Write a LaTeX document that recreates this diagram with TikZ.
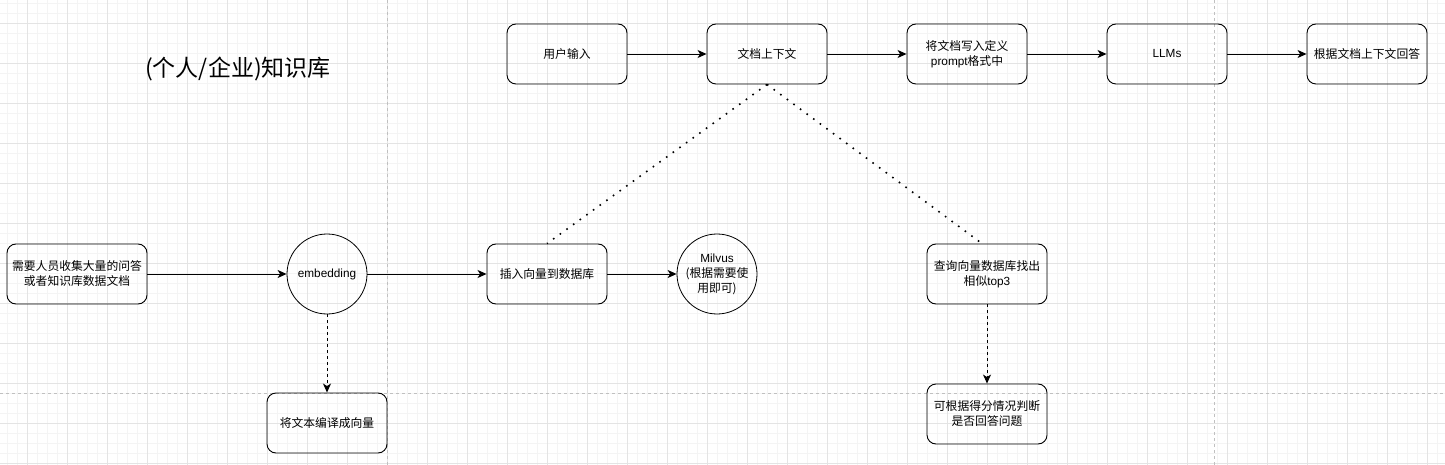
\documentclass[tikz,border=0pt]{standalone}
\usepackage{fontspec}
\setmainfont{Noto Sans CJK SC}
\newfontfamily\lat{Liberation Sans}
\usetikzlibrary{arrows.meta}
\definecolor{gridmajor}{HTML}{E4E4E4}
\definecolor{gridminor}{HTML}{F4F4F4}
\definecolor{pagebreak}{HTML}{C0C0C0}
\begin{document}
\begin{tikzpicture}[x=1pt,y=-1pt,
  box/.style={draw,line width=0.9pt,rounded corners=9pt,minimum width=120pt,minimum height=60pt,
    align=center,font=\fontsize{11.8}{15}\selectfont,inner sep=2pt},
  circ/.style={draw,line width=0.8pt,circle,minimum size=80pt,inner sep=0pt,align=center,
    font=\fontsize{11.8}{15}\selectfont},
  arr/.style={-{Stealth[length=9pt,width=8pt,inset=2.5pt]},line width=0.9pt},
  dasharr/.style={arr,dash pattern=on 3pt off 3pt},
  dotline/.style={line width=1.6pt,dash pattern=on 1.6pt off 6.6pt},
  pagebrk/.style={pagebreak,line width=0.8pt,dash pattern=on 3pt off 3pt}]
\useasboundingbox (0,0) rectangle (1445,465);
\fill[white] (0,0) rectangle (1445,465);
% grid
\foreach \x in {7,17,...,1445} \draw[gridminor,line width=0.6pt] (\x,0) -- (\x,465);
\foreach \y in {3,13,...,465} \draw[gridminor,line width=0.6pt] (0,\y) -- (1445,\y);
\foreach \x in {27,67,...,1445} \draw[gridmajor,line width=0.8pt] (\x,0) -- (\x,465);
\foreach \y in {23,63,...,465} \draw[gridmajor,line width=0.8pt] (0,\y) -- (1445,\y);
% page breaks
\draw[pagebrk] (387,0) -- (387,465);
\draw[pagebrk] (1214,0) -- (1214,465);
\draw[pagebrk] (0,393) -- (1445,393);
% title
\node (title) at (238,69) {\fontsize{23}{27}\selectfont (个人/企业)知识库};
% top row
\node[box] (input) at (567,54) {用户输入};
\node[box] (ctx) at (767,54) {文档上下文};
\node[box] (prompt) at (967,54) {将文档写入定义\\{\lat prompt}格式中};
\node[box] (llm) at (1167,54) {\lat LLMs};
\node[box] (answer) at (1367,54) {根据文档上下文回答};
% middle row
\node[box,minimum width=140pt] (collect) at (77,274) {需要人员收集大量的问答\\或者知识库数据文档};
\node[circ] (emb) at (327,274) {\lat embedding};
\node[box] (insert) at (547,274) {插入向量到数据库};
\node[circ] (milvus) at (717,274) {{\lat Milvus}\\(根据需要使\\用即可)};
\node[box] (query) at (987,274) {查询向量数据库找出\\相似{\lat top3}};
% bottom row
\node[box] (encode) at (327,423) {将文本编译成向量};
\node[box] (judge) at (987,414) {可根据得分情况判断\\是否回答问题};
% connectors
\draw[arr] (input) -- (ctx);
\draw[arr] (ctx) -- (prompt);
\draw[arr] (prompt) -- (llm);
\draw[arr] (llm) -- (answer);
\draw[arr] (collect) -- (emb);
\draw[arr] (emb) -- (insert);
\draw[arr] (insert) -- (milvus);
\draw[dasharr] (emb.south) -- (encode.north);
\draw[dasharr] (query.south) -- (judge.north);
\draw[dotline] (ctx.south) -- (insert.north);
\draw[dotline] (ctx.south) -- ([xshift=-5pt]query.north);
\end{tikzpicture}
\end{document}
